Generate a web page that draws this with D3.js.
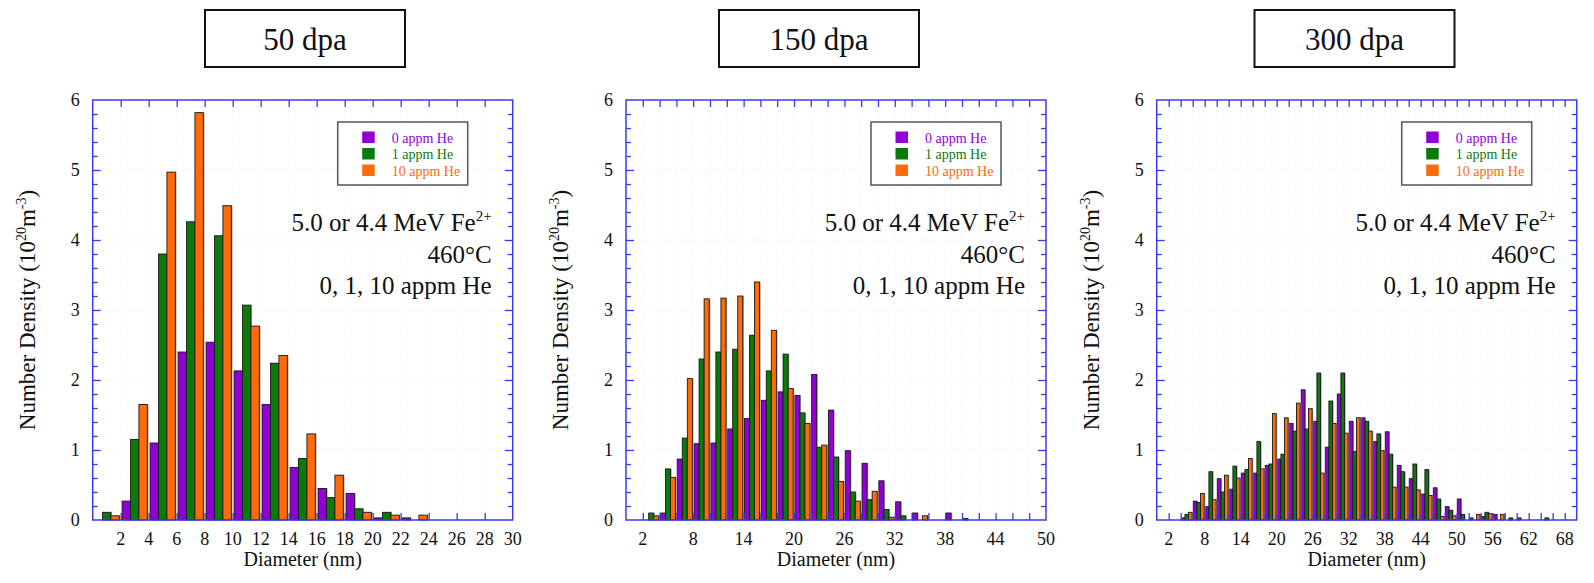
<!DOCTYPE html>
<html>
<head>
<meta charset="utf-8">
<script src="https://cdn.jsdelivr.net/npm/d3@7"></script>
<style>
  html, body { margin: 0; padding: 0; background: #fff; }
  svg { display: block; }
  svg text { font-family: "Liberation Serif", "Times New Roman", Times, serif; fill: #111; }
</style>
</head>
<body>
<svg id="chart" width="1594" height="583" font-family="Liberation Serif, Times New Roman, serif"></svg>
<script>
// Cavity size distributions, bins of 2 nm (bin start values in nm)
const seriesNames = ["0 appm He", "1 appm He", "10 appm He"];
const seriesColors = ["#9000d6", "#0a7a0a", "#ff6a0a"];
const binWidth = 2;

// 50 dpa, bins starting at 0, 2, 4, ...
const dpa50Purple = [0, 0.27, 1.10, 2.40, 2.54, 2.13, 1.65, 0.75, 0.45, 0.38, 0.03, 0.03];
const dpa50Green  = [0.11, 1.15, 3.80, 4.26, 4.06, 3.07, 2.24, 0.88, 0.32, 0.16, 0.11, 0];
const dpa50Orange = [0.06, 1.65, 4.97, 5.82, 4.49, 2.77, 2.35, 1.23, 0.64, 0.11, 0.07, 0.07];

// 150 dpa
const dpa150Purple = [0, 0, 0.10, 0.87, 1.09, 1.10, 1.30, 1.45, 1.71, 1.83, 1.78, 2.08, 1.57, 0.99, 0.81, 0.56, 0.26, 0.10, 0, 0.10, 0.02];
const dpa150Green  = [0, 0.10, 0.73, 1.17, 2.30, 2.40, 2.44, 2.64, 2.13, 2.37, 1.53, 1.04, 0.90, 0.40, 0.29, 0.15, 0.06, 0, 0, 0, 0];
const dpa150Orange = [0, 0.06, 0.61, 2.02, 3.16, 3.17, 3.20, 3.40, 2.71, 1.88, 1.38, 1.07, 0.55, 0.27, 0.41, 0.04, 0, 0.06, 0, 0, 0];

// 300 dpa
const dpa300Purple = [0, 0, 0.03, 0.27, 0.19, 0.59, 0.44, 0.67, 0.67, 0.78, 0.87, 1.38, 1.86, 1.41, 1.04, 1.80, 1.41, 1.46, 1.12, 1.26, 0.78, 0.59, 0.37, 0.46, 0.19, 0.30, 0.03, 0.05, 0.08, 0, 0.03, 0, 0];
const dpa300Green  = [0, 0, 0.08, 0.25, 0.69, 0.40, 0.77, 0.72, 1.12, 0.80, 0.94, 1.27, 1.30, 2.10, 1.70, 2.10, 0.98, 1.41, 1.23, 0.94, 0.69, 0.80, 0.72, 0.30, 0.14, 0.08, 0, 0.11, 0, 0.03, 0, 0, 0.03];
const dpa300Orange = [0, 0, 0.11, 0.38, 0.29, 0.64, 0.60, 0.88, 0.73, 1.52, 1.46, 1.67, 1.59, 0.67, 1.38, 1.24, 1.46, 1.27, 0.99, 0.47, 0.47, 0.43, 0.35, 0.05, 0.06, 0, 0.08, 0.09, 0.08, 0, 0, 0, 0];

const panelTitles = ["50 dpa", "150 dpa", "300 dpa"];
const xMaxValues = [30, 50, 70];
const xLabels50  = [2, 4, 6, 8, 10, 12, 14, 16, 18, 20, 22, 24, 26, 28, 30];
const xLabels150 = [2, 8, 14, 20, 26, 32, 38, 44, 50];
const xLabels300 = [2, 8, 14, 20, 26, 32, 38, 44, 50, 56, 62, 68];
const yLabels = [0, 1, 2, 3, 4, 5, 6];
const annotationLines = ["5.0 or 4.4 MeV Fe", "460°C", "0, 1, 10 appm He"];

const panels = [
  { title: panelTitles[0], xMax: xMaxValues[0], labels: xLabels50,  series: [dpa50Purple, dpa50Green, dpa50Orange],   left: 92.7,  titleCx: 305 },
  { title: panelTitles[1], xMax: xMaxValues[1], labels: xLabels150, series: [dpa150Purple, dpa150Green, dpa150Orange], left: 626,   titleCx: 819 },
  { title: panelTitles[2], xMax: xMaxValues[2], labels: xLabels300, series: [dpa300Purple, dpa300Green, dpa300Orange], left: 1156.7, titleCx: 1354.5 }
];

const svg = d3.select("#chart");
const plotW = 420, plotTop = 100, plotBottom = 520;
const axisColor = "#3a3af0";

panels.forEach(p => {
  const x = d3.scaleLinear().domain([0, p.xMax]).range([p.left, p.left + plotW]);
  const y = d3.scaleLinear().domain([0, 6]).range([plotBottom, plotTop]);
  const g = svg.append("g");

  // faint background grid
  g.selectAll(".gy").data(yLabels.slice(1, -1)).join("line")
    .attr("x1", x(0)).attr("x2", x(p.xMax)).attr("y1", d => y(d)).attr("y2", d => y(d))
    .attr("stroke", "#ececec").attr("stroke-dasharray", "1,2");
  g.selectAll(".gx").data(d3.range(binWidth, p.xMax, binWidth)).join("line")
    .attr("y1", y(0)).attr("y2", y(6)).attr("x1", d => x(d)).attr("x2", d => x(d))
    .attr("stroke", "#f0f0f0").attr("stroke-dasharray", "1,2");

  // bars: three series side by side inside each 2 nm bin
  const sub = 0.6, off = 0.1;
  const bw = x(sub) - x(0);
  p.series.forEach((vals, si) => {
    const data = vals.map((v, i) => ({ b: i * binWidth, v })).filter(d => d.v > 0);
    // soft shadow on the right edge
    g.selectAll(null).data(data).join("rect")
      .attr("x", d => x(d.b + off + si * sub) + 1.2)
      .attr("y", d => y(d.v))
      .attr("width", bw)
      .attr("height", d => y(0) - y(d.v))
      .attr("fill", "#a8a8a8");
    g.selectAll(null).data(data).join("rect")
      .attr("x", d => x(d.b + off + si * sub))
      .attr("y", d => y(d.v))
      .attr("width", bw)
      .attr("height", d => y(0) - y(d.v))
      .attr("fill", seriesColors[si])
      .attr("stroke", "#1a1a1a")
      .attr("stroke-width", 0.9);
  });

  // axis frame with inward ticks on all sides
  const xTickVals = d3.range(binWidth, p.xMax, binWidth);
  const bottomAxis = d3.axisBottom(x).tickValues(xTickVals).tickSize(-7).tickFormat("");
  const topAxis = d3.axisTop(x).tickValues(xTickVals).tickSize(-7).tickFormat("");
  const minorY = d3.range(0.2, 6, 0.2).filter(v => Math.abs(v - Math.round(v)) > 0.01);
  const leftMajor = d3.axisLeft(y).tickValues(yLabels.slice(1, -1)).tickSize(-8).tickFormat("");
  const leftMinor = d3.axisLeft(y).tickValues(minorY).tickSize(-5).tickFormat("");
  const rightMajor = d3.axisRight(y).tickValues(yLabels.slice(1, -1)).tickSize(-8).tickFormat("");
  const rightMinor = d3.axisRight(y).tickValues(minorY).tickSize(-5).tickFormat("");

  const ax = [
    [bottomAxis, `translate(0,${plotBottom})`],
    [topAxis, `translate(0,${plotTop})`],
    [leftMajor, `translate(${x(0)},0)`],
    [leftMinor, `translate(${x(0)},0)`],
    [rightMajor, `translate(${x(p.xMax)},0)`],
    [rightMinor, `translate(${x(p.xMax)},0)`]
  ];
  ax.forEach(([a, t]) => {
    const ag = g.append("g").attr("transform", t).call(a);
    ag.select(".domain").remove();
    ag.selectAll("line").attr("stroke", axisColor).attr("stroke-width", 1.3);
  });
  g.append("rect")
    .attr("x", x(0)).attr("y", plotTop).attr("width", plotW).attr("height", plotBottom - plotTop)
    .attr("fill", "none").attr("stroke", axisColor).attr("stroke-width", 1.5);

  // tick labels
  g.selectAll(".xl").data(p.labels).join("text")
    .attr("x", d => x(d)).attr("y", plotBottom + 25)
    .attr("text-anchor", "middle").attr("font-size", 18).text(d => d);
  g.selectAll(".yl").data(yLabels).join("text")
    .attr("x", x(0) - 13).attr("y", d => y(d) + 6)
    .attr("text-anchor", "end").attr("font-size", 18).text(d => d);

  // axis titles
  g.append("text").attr("x", (x(0) + x(p.xMax)) / 2).attr("y", plotBottom + 46)
    .attr("text-anchor", "middle").attr("font-size", 20).text("Diameter (nm)");
  const yt = g.append("text")
    .attr("transform", `translate(${x(0) - 58},${(plotTop + plotBottom) / 2}) rotate(-90)`)
    .attr("text-anchor", "middle").attr("font-size", 23);
  yt.append("tspan").text("Number Density (10");
  yt.append("tspan").attr("dy", -9).attr("font-size", 14).text("20");
  yt.append("tspan").attr("dy", 9).text("m");
  yt.append("tspan").attr("dy", -9).attr("font-size", 14).text("-3");
  yt.append("tspan").attr("dy", 9).text(")");

  // title box
  g.append("rect").attr("x", p.titleCx - 100).attr("y", 10).attr("width", 200).attr("height", 57)
    .attr("fill", "#fff").attr("stroke", "#111").attr("stroke-width", 2);
  g.append("text").attr("x", p.titleCx).attr("y", 50).attr("text-anchor", "middle")
    .attr("font-size", 31).text(p.title);

  // legend
  const lx = x(p.xMax) - 45 - 130, ly = plotTop + 22;
  g.append("rect").attr("x", lx).attr("y", ly).attr("width", 130).attr("height", 63)
    .attr("fill", "#fff").attr("stroke", "#555").attr("stroke-width", 1.5);
  seriesNames.forEach((n, i) => {
    g.append("rect").attr("x", lx + 24.5).attr("y", ly + 9.5 + i * 16.5).attr("width", 12.5).attr("height", 11.5)
      .attr("fill", seriesColors[i]);
    g.append("text").attr("x", lx + 54).attr("y", ly + 20.5 + i * 16.5).attr("font-size", 14)
      .style("fill", seriesColors[i]).text(n);
  });

  // annotation
  const ar = x(p.xMax) - 21;
  const a1 = g.append("text").attr("x", ar).attr("y", 231).attr("text-anchor", "end").attr("font-size", 25);
  a1.append("tspan").text(annotationLines[0]);
  a1.append("tspan").attr("dy", -10).attr("font-size", 15).text("2+");
  g.append("text").attr("x", ar).attr("y", 263).attr("text-anchor", "end").attr("font-size", 25).text(annotationLines[1]);
  g.append("text").attr("x", ar).attr("y", 294).attr("text-anchor", "end").attr("font-size", 25).text(annotationLines[2]);
});
</script>
</body>
</html>
